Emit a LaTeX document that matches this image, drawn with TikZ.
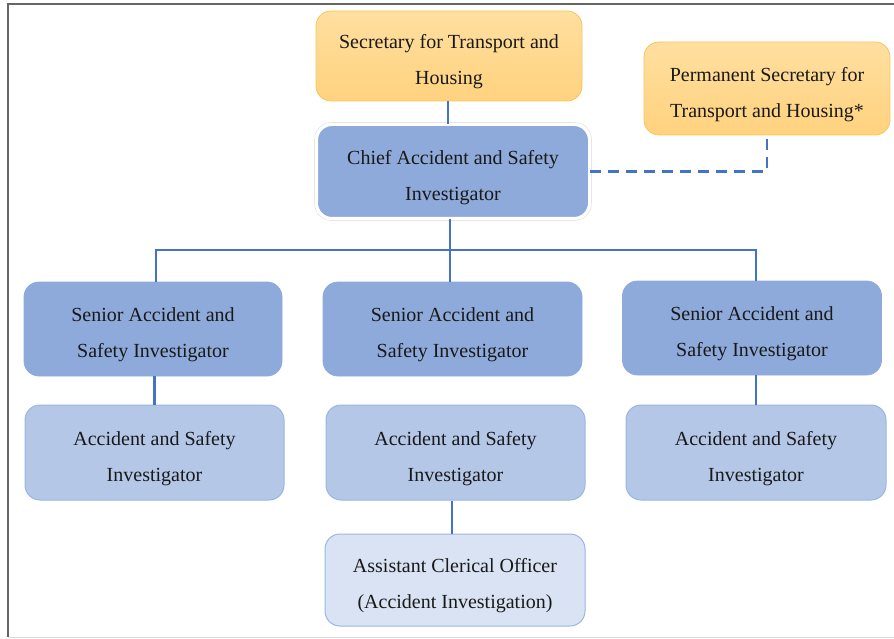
\documentclass[tikz,border=0pt]{standalone}
\usepackage{fontspec}
\setmainfont{Liberation Serif}
\usepackage{xcolor}
\usetikzlibrary{calc,positioning}
\definecolor{linkblue}{HTML}{4472C4}
\definecolor{orangetop}{HTML}{FFDFA0}
\definecolor{orangebot}{HTML}{FFD27E}
\definecolor{orangeline}{HTML}{F6C65B}
\definecolor{chiefblue}{HTML}{8EAADB}
\definecolor{invblue}{HTML}{B4C7E7}
\definecolor{invline}{HTML}{9AB5E3}
\definecolor{clerkblue}{HTML}{DAE3F3}

\begin{document}
\begin{tikzpicture}[x=1pt, y=-1pt,
box/.style = {rounded corners=15pt, align=center, inner sep=0pt,
  font=\fontsize{20}{36}\selectfont, text=black!90,
  execute at begin node={\rule{0pt}{62pt}}},
minister/.style = {box, top color=orangetop, bottom color=orangebot, draw=orangeline, line width=0.8pt},
chiefbox/.style = {box, fill=chiefblue, draw=white, line width=2pt},
seniorbox/.style = {box, fill=chiefblue, draw=chiefblue, line width=0.8pt},
invbox/.style = {box, fill=invblue, draw=invline, line width=1pt},
clerkbox/.style = {box, fill=clerkblue, draw=invline, line width=1pt},
link/.style = {draw=linkblue, line width=2.5pt},
dashlink/.style = {link, dash pattern=on 11pt off 7pt}]
\useasboundingbox (0,0) rectangle (894,639);
% frame
\draw[black!60, line width=1.5pt] (894,4) -- (8,4) -- (8,637);
\draw[black!15, line width=1pt] (8,637) -- (894,637);

% top level
\node[minister, minimum width=266pt, minimum height=90pt] (sec) at (449,56) {Secretary for Transport and\\Housing};
\node[minister, minimum width=246pt, minimum height=93pt] (psec) at (767,88.5) {Permanent Secretary for\\Transport and Housing*};
\node[chiefbox, minimum width=272pt, minimum height=93pt] (chief) at (453,171.5) {Chief Accident and Safety\\Investigator};
\draw[black!10, line width=0.6pt, rounded corners=17pt] ($(chief.south west)+(-1.5,1.5)$) rectangle ($(chief.north east)+(1.5,-1.5)$);

% senior investigators
\node[seniorbox, minimum width=258pt, minimum height=94pt] (sen1) at (153,329) {Senior Accident and\\Safety Investigator};
\node[seniorbox, minimum width=259pt, minimum height=94pt] (sen2) at (452.5,329) {Senior Accident and\\Safety Investigator};
\node[seniorbox, minimum width=259pt, minimum height=94pt] (sen3) at (752,328) {Senior Accident and\\Safety Investigator};

% investigators
\node[invbox, minimum width=259pt, minimum height=95pt] (inv1) at (154.5,452.5) {Accident and Safety\\Investigator};
\node[invbox, minimum width=259pt, minimum height=95pt] (inv2) at (455.5,452.5) {Accident and Safety\\Investigator};
\node[invbox, minimum width=260pt, minimum height=95pt] (inv3) at (756,452.5) {Accident and Safety\\Investigator};

\node[clerkbox, minimum width=260pt, minimum height=92pt] (clerk) at (455,580) {Assistant Clerical Officer\\(Accident Investigation)};

% connectors
\coordinate (bus) at (450,250);
\draw[link] (sec.south -| 448,0) -- (chief.north -| 448,0);
\draw[link] (chief.south -| bus) -- (bus);
\draw[link] (sen1.north -| 156,0) |- (bus) -| (sen3.north -| 756,0);
\draw[link] (bus) -- (sen2.north -| bus);
\draw[link] (sen1.south -| inv1) -- (inv1.north);
\draw[link] (sen3.south -| inv3) -- (inv3.north);
\draw[link] (inv2.south -| 452,0) -- (clerk.north -| 452,0);
\draw[dashlink] (chief.east) -| (psec.south);
\end{tikzpicture}
\end{document}
